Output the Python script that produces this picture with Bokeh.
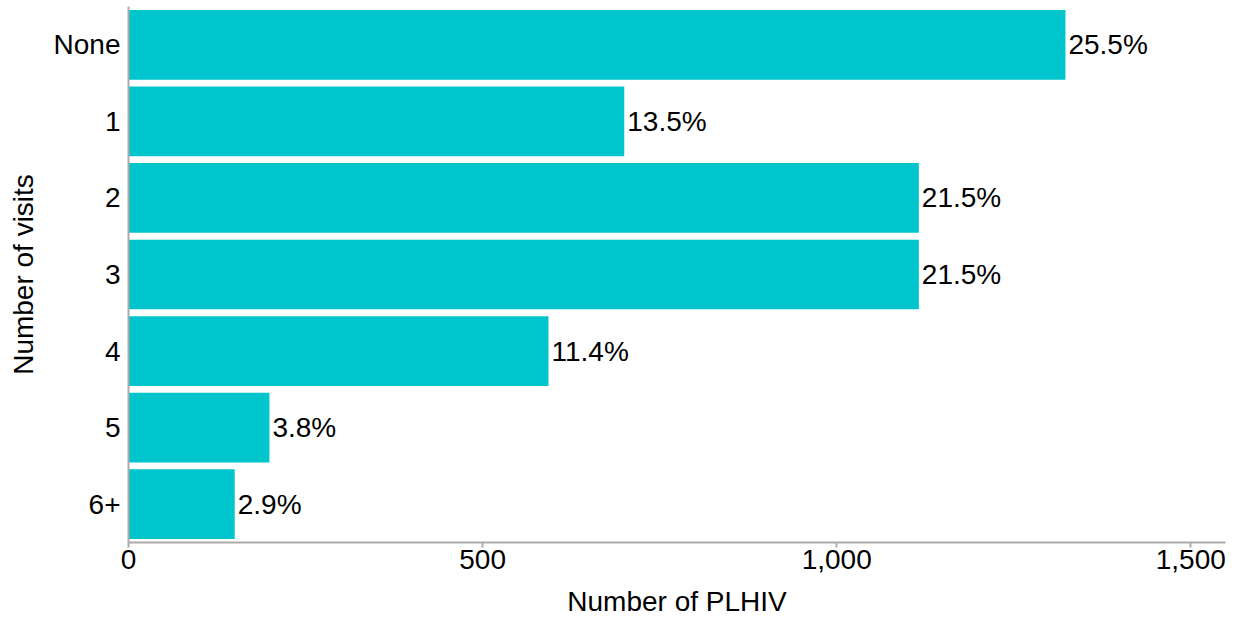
from bokeh.plotting import figure
from bokeh.models import ColumnDataSource, FactorRange, Range1d, FixedTicker, NumeralTickFormatter
from bokeh.core.properties import value
from bokeh.embed import file_html
from bokeh.resources import INLINE

categories = ["None", "1", "2", "3", "4", "5", "6+"]
counts = [1323, 700, 1116, 1116, 593, 199, 150]
pct_labels = ["25.5%", "13.5%", "21.5%", "21.5%", "11.4%", "3.8%", "2.9%"]
x_ticks = [0, 500, 1000, 1500]
x_title = "Number of PLHIV"
y_title = "Number of visits"
x_max = 1549

FONT = "Liberation Sans"
BAR = "#00C5CD"
AX = "#ABABAB"
FS = "28px"

src = ColumnDataSource(dict(cat=categories, n=counts, lab=pct_labels))

p = figure(width=1235, height=619, output_backend="svg", toolbar_location=None,
           y_range=FactorRange(factors=list(reversed(categories)), range_padding=0),
           x_range=Range1d(0, x_max),
           min_border_left=128, min_border_right=10, min_border_top=6, min_border_bottom=76)

p.hbar(y="cat", right="n", left=0, height=0.91, source=src, fill_color=BAR, line_color=None)
p.text(x="n", y="cat", text="lab", source=src, x_offset=3, text_baseline="middle",
       text_align="left", text_font=value(FONT), text_font_size=FS, text_color="#000000")

p.outline_line_color = None
p.xgrid.visible = False
p.ygrid.visible = False

xa = p.xaxis[0]
xa.ticker = FixedTicker(ticks=x_ticks)
xa.formatter = NumeralTickFormatter(format="0,0")
xa.axis_label = x_title
xa.major_tick_out = 5
xa.major_tick_in = 0
xa.minor_tick_out = 0
xa.minor_tick_in = 0
xa.major_label_standoff = 2

ya = p.yaxis[0]
ya.axis_label = y_title
ya.major_tick_out = 0
ya.major_tick_in = 0
ya.major_label_standoff = 8

for ax in (xa, ya):
    ax.axis_line_color = AX
    ax.axis_line_width = 2
    ax.major_tick_line_color = AX
    ax.major_tick_line_width = 2
    ax.major_label_text_font = FONT
    ax.major_label_text_font_size = FS
    ax.major_label_text_color = "#000000"
    ax.axis_label_text_font = FONT
    ax.axis_label_text_font_size = FS
    ax.axis_label_text_font_style = "normal"
    ax.axis_label_text_color = "#000000"

xa.axis_label_standoff = 14
ya.axis_label_standoff = 12

open("out.html", "w").write(file_html(p, INLINE))
